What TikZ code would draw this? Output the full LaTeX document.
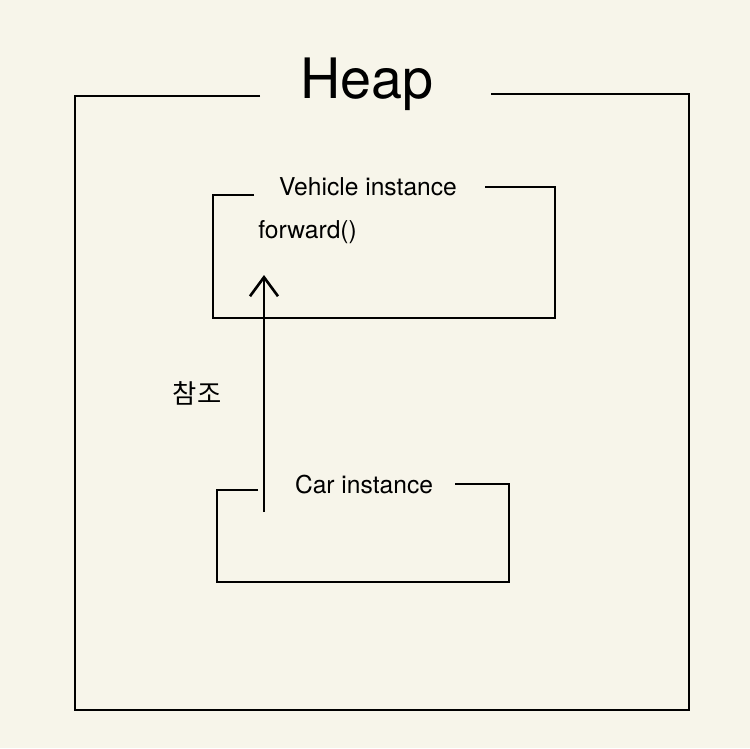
\documentclass[tikz,border=0pt]{standalone}
\usepackage{fontspec}
\setmainfont{TeX Gyre Heros}
\newfontfamily\kofont{Noto Sans CJK KR}
\usetikzlibrary{calc, positioning}
\usetikzlibrary{arrows.meta}
\definecolor{paper}{RGB}{247,245,234}

\begin{document}
\begin{tikzpicture}[x=0.02cm, y=-0.02cm, line width=1.5pt,
  label/.style={inner sep=0pt, font=\fontsize{14}{16}\selectfont}]
\fill[paper] (0,0) rectangle (750,748);
\useasboundingbox (0,0) rectangle (750,748);

% heap frame
\coordinate (Hl) at (260,96);
\coordinate (Hnw) at (75,96);
\coordinate (Hse) at (689,710);
\coordinate (Hr) at (491,94);

\node[inner sep=0pt, anchor=base, font=\fontsize{31.7}{36}\selectfont] (heap) at (367,98) {Heap};

\draw (Hl) -- (Hnw) |- (Hse) -- (Hse |- Hr) -- (Hr);

% vehicle instance
\coordinate (Vl) at (254,195);
\coordinate (Vnw) at (213,195);
\coordinate (Vse) at (555,318);
\coordinate (Vr) at (485,187);

\node[label, anchor=base] (vehicle) at (368,195) {Vehicle instance};
\node[label, anchor=base west] (forward) at (257,238) {forward()};

\draw (Vl) -- (Vnw) |- (Vse) -- (Vse |- Vr) -- (Vr);

% car instance
\coordinate (Cl) at (258,490);
\coordinate (Cnw) at (217,490);
\coordinate (Cse) at (509,582);
\coordinate (Cr) at (455,484);

\node[label, anchor=base] (car) at (364,493) {Car instance};

\draw (Cl) -- (Cnw) |- (Cse) -- (Cse |- Cr) -- (Cr);

% reference arrow
\coordinate (from) at (264,512);
\coordinate (to) at (264,275);
\draw[-{Straight Barb[length=0.38cm, width=0.56cm]}] (from) -- (to);

\node[inner sep=0pt, font=\kofont\fontsize{15}{18}\selectfont] (ref) at (197,393) {참조};
\end{tikzpicture}
\end{document}
